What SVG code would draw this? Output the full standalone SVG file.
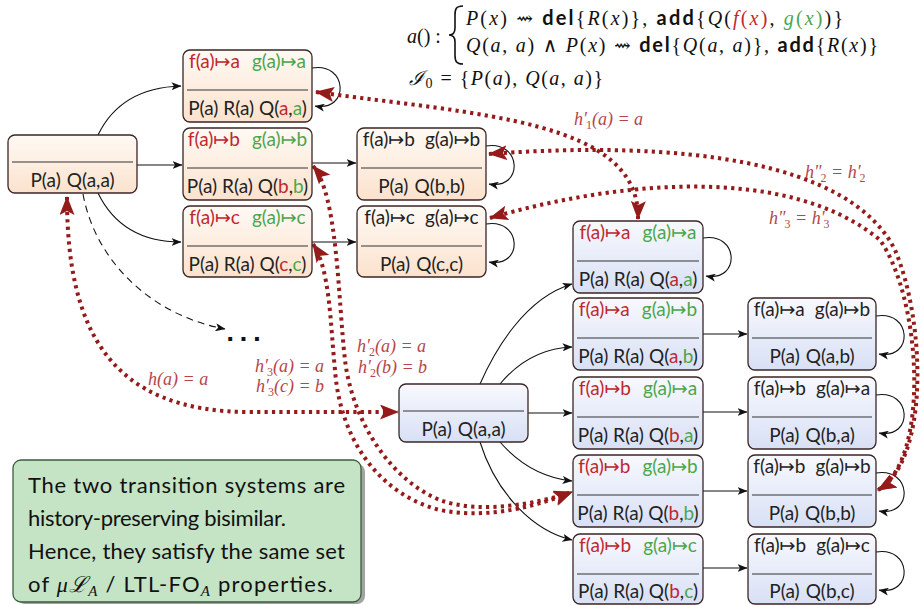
<svg xmlns="http://www.w3.org/2000/svg" width="924" height="605" viewBox="0 0 924 605">
<defs>
  <linearGradient id="gO" x1="0" y1="0" x2="0" y2="1">
    <stop offset="0" stop-color="#fffaf5"/>
    <stop offset="1" stop-color="#fbe2cd"/>
  </linearGradient>
  <linearGradient id="gB" x1="0" y1="0" x2="0" y2="1">
    <stop offset="0" stop-color="#f8f9fe"/>
    <stop offset="1" stop-color="#d8e0f5"/>
  </linearGradient>
  <marker id="ah" viewBox="0 0 10 8" refX="9.5" refY="4" markerWidth="10" markerHeight="8" markerUnits="userSpaceOnUse" orient="auto">
    <path d="M0,0 L10,4 L0,8 L2.5,4 z" fill="#111"/>
  </marker>
  <marker id="rh" viewBox="0 0 19 15" refX="18" refY="7.5" markerWidth="19" markerHeight="15" markerUnits="userSpaceOnUse" orient="auto-start-reverse">
    <path d="M0,0 L19,7.5 L0,15 L4,7.5 z" fill="#951b1b"/>
  </marker>
  <style>
    .nt{fill:url(#gO);stroke:#3b2525;stroke-width:1.3}
    .nb{fill:url(#gB);stroke:#3b2525;stroke-width:1.3}
    .dv{stroke:#333;stroke-width:1.2}
    .nl{font-family:Lato,"DejaVu Sans",sans-serif;font-size:19px;fill:#222;text-anchor:middle}
    .r{fill:#c0272d}
    .g{fill:#4ca64c}
    .e{fill:none;stroke:#111;stroke-width:1.1;marker-end:url(#ah)}
    .dash{stroke-dasharray:7 5}
    .d{fill:none;stroke:#951b1b;stroke-width:4;stroke-dasharray:3.2 4.2;marker-start:url(#rh);marker-end:url(#rh)}
    .lbl{font-family:"Liberation Serif","DejaVu Serif",serif;font-style:italic;font-size:18px;fill:#b5454b}
    .sm{font-size:12px;font-style:normal}
    .math{font-family:"Liberation Serif","DejaVu Serif",serif;font-size:20px;fill:#111}
    .i{font-style:italic}
    .kw{font-family:Lato,"DejaVu Sans",sans-serif;font-weight:bold}
    .note{font-family:Lato,"DejaVu Sans",sans-serif;font-size:22px;fill:#111}
    .ms{font-family:"Liberation Serif","DejaVu Serif",serif;font-style:italic}
  </style>
</defs>

<!-- action specification and initial instance -->
<g id="spec">
  <text class="math" x="407" y="43"><tspan class="i">a</tspan>() :</text>
  <path d="M463,6 C456,6 455,9 455,15 L455,28 C455,33 453,35 449,35 C453,35 455,37 455,42 L455,55 C455,61 456,64 463,64" fill="none" stroke="#111" stroke-width="1.6"/>
  <text class="math" x="466" y="25" textLength="377" lengthAdjust="spacing"><tspan class="i">P</tspan>(<tspan class="i">x</tspan>) ⇝ <tspan class="kw">del</tspan>{<tspan class="i">R</tspan>(<tspan class="i">x</tspan>)}, <tspan class="kw">add</tspan>{<tspan class="i">Q</tspan>(<tspan class="r"><tspan class="i">f</tspan>(<tspan class="i">x</tspan>)</tspan>, <tspan class="g"><tspan class="i">g</tspan>(<tspan class="i">x</tspan>)</tspan>)}</text>
  <text class="math" x="466" y="52" textLength="412" lengthAdjust="spacing"><tspan class="i">Q</tspan>(<tspan class="i">a</tspan>, <tspan class="i">a</tspan>) ∧ <tspan class="i">P</tspan>(<tspan class="i">x</tspan>) ⇝ <tspan class="kw">del</tspan>{<tspan class="i">Q</tspan>(<tspan class="i">a</tspan>, <tspan class="i">a</tspan>)}, <tspan class="kw">add</tspan>{<tspan class="i">R</tspan>(<tspan class="i">x</tspan>)}</text>
  <text class="math" x="409" y="85" textLength="194" lengthAdjust="spacing"><tspan class="i">ℐ</tspan><tspan font-size="14" dy="3">0</tspan><tspan dy="-3"> = {</tspan><tspan class="i">P</tspan>(<tspan class="i">a</tspan>), <tspan class="i">Q</tspan>(<tspan class="i">a</tspan>, <tspan class="i">a</tspan>)}</text>
</g>

<!-- connectors -->
<g id="edges">
  <path class="e" d="M98,135 C115,100 145,87 181,86"/>
  <path class="e" d="M137,165 L182,165"/>
  <path class="e" d="M98,193 C115,228 145,242 181,242"/>
  <path class="e dash" d="M83,194 C95,260 150,315 225,329"/>
  <path class="e" d="M312,163 L356,163"/>
  <path class="e" d="M312,242 L356,242"/>
  <path class="e" d="M312,68 C348,62 350,112 315,106"/>
  <path class="e" d="M486,146 C522,140 524,190 489,184"/>
  <path class="e" d="M486,224 C522,218 524,268 489,262"/>

  <path class="e" d="M480,384 C495,350 525,298 572,284"/>
  <path class="e" d="M500,384 C520,360 545,348 572,347"/>
  <path class="e" d="M528,413 L572,413"/>
  <path class="e" d="M500,442 C520,465 545,478 572,481"/>
  <path class="e" d="M480,442 C495,490 530,530 572,540"/>
  <path class="e" d="M703,334 L747,334"/>
  <path class="e" d="M703,412 L747,412"/>
  <path class="e" d="M703,491 L747,491"/>
  <path class="e" d="M703,568 L747,568"/>
  <path class="e" d="M703,238 C739,232 741,282 706,276"/>
  <path class="e" d="M876,316 C912,310 914,360 879,354"/>
  <path class="e" d="M876,395 C912,389 914,439 879,433"/>
  <path class="e" d="M876,473 C912,467 914,517 879,511"/>
  <path class="e" d="M876,552 C912,546 914,596 879,590"/>

  <!-- bisimulation links -->
  <path class="d" d="M67,197 C67,330 110,412 250,412 L398,412"/>
  <path class="d" d="M316,92 C480,115 640,120 638,219"/>
  <path class="d" d="M489,154 C680,140 850,160 895,250 C925,320 930,460 878,490"/>
  <path class="d" d="M490,218 C620,180 790,165 880,240 C922,300 930,460 878,490"/>
  <path class="d" d="M313,166 C338,195 338,300 345,360 C352,420 390,480 440,500 C480,515 540,503 572,492"/>
  <path class="d" d="M313,244 C330,270 330,320 335,370 C340,440 380,495 440,510 C490,520 540,505 572,492"/>
</g>

<g id="labels">
  <text class="lbl" x="574" y="125">h′<tspan class="sm" dx="-1" dy="4">1</tspan><tspan dy="-4">(a) = a</tspan></text>
  <text class="lbl" x="805" y="178">h″<tspan class="sm" dx="-1" dy="4">2</tspan><tspan dy="-4"> = h′</tspan><tspan class="sm" dx="-1" dy="4">2</tspan></text>
  <text class="lbl" x="769" y="224">h″<tspan class="sm" dx="-1" dy="4">3</tspan><tspan dy="-4"> = h′</tspan><tspan class="sm" dx="-1" dy="4">3</tspan></text>
  <text class="lbl" x="148" y="385">h(a) = a</text>
  <text class="lbl" x="255" y="372">h′<tspan class="sm" dx="-1" dy="4">3</tspan><tspan dy="-4">(a) = a</tspan></text>
  <text class="lbl" x="256" y="392">h′<tspan class="sm" dx="-1" dy="4">3</tspan><tspan dy="-4">(c) = b</tspan></text>
  <text class="lbl" x="357" y="352">h′<tspan class="sm" dx="-1" dy="4">2</tspan><tspan dy="-4">(a) = a</tspan></text>
  <text class="lbl" x="358" y="373">h′<tspan class="sm" dx="-1" dy="4">2</tspan><tspan dy="-4">(b) = b</tspan></text>
  <text x="226" y="341" font-family="DejaVu Sans,sans-serif" font-weight="bold" font-size="22" letter-spacing="5" fill="#111">...</text>
</g>

<!-- first transition system -->
<g id="s1-root">
  <rect class="nt" x="8" y="135" width="129" height="58" rx="7"/>
  <line class="dv" x1="12" y1="162" x2="133" y2="162"/>
  <text class="nl" x="72.5" y="187">P(a)<tspan dx="6">Q(a,a)</tspan></text>
</g>
<g id="s1-aa">
  <rect class="nt" x="183" y="50" width="129" height="72" rx="7"/>
  <line class="dv" x1="187" y1="90" x2="308" y2="90"/>
  <text class="nl" x="247.5" y="68"><tspan class="r">f(a)↦a</tspan><tspan class="g" dx="12">g(a)↦a</tspan></text>
  <text class="nl" x="247.5" y="115">P(a) R(a) Q(<tspan class="r">a</tspan>,<tspan class="g">a</tspan>)</text>
</g>
<g id="s1-bb">
  <rect class="nt" x="183" y="128" width="129" height="72" rx="7"/>
  <line class="dv" x1="187" y1="168" x2="308" y2="168"/>
  <text class="nl" x="247.5" y="146"><tspan class="r">f(a)↦b</tspan><tspan class="g" dx="12">g(a)↦b</tspan></text>
  <text class="nl" x="247.5" y="193">P(a) R(a) Q(<tspan class="r">b</tspan>,<tspan class="g">b</tspan>)</text>
</g>
<g id="s1-cc">
  <rect class="nt" x="183" y="206" width="129" height="71" rx="7"/>
  <line class="dv" x1="187" y1="246" x2="308" y2="246"/>
  <text class="nl" x="247.5" y="224"><tspan class="r">f(a)↦c</tspan><tspan class="g" dx="12">g(a)↦c</tspan></text>
  <text class="nl" x="247.5" y="271">P(a) R(a) Q(<tspan class="r">c</tspan>,<tspan class="g">c</tspan>)</text>
</g>
<g id="s1-bb2">
  <rect class="nt" x="357" y="128" width="129" height="72" rx="7"/>
  <line class="dv" x1="361" y1="168" x2="482" y2="168"/>
  <text class="nl" x="421.5" y="146">f(a)↦b<tspan dx="10">g(a)↦b</tspan></text>
  <text class="nl" x="421.5" y="193">P(a)<tspan dx="6">Q(b,b)</tspan></text>
</g>
<g id="s1-cc2">
  <rect class="nt" x="357" y="206" width="129" height="71" rx="7"/>
  <line class="dv" x1="361" y1="246" x2="482" y2="246"/>
  <text class="nl" x="421.5" y="224">f(a)↦c<tspan dx="10">g(a)↦c</tspan></text>
  <text class="nl" x="421.5" y="271">P(a)<tspan dx="6">Q(c,c)</tspan></text>
</g>

<!-- second transition system -->
<g id="s2-root">
  <rect class="nb" x="399" y="384" width="129" height="58" rx="7"/>
  <line class="dv" x1="403" y1="411" x2="524" y2="411"/>
  <text class="nl" x="463.5" y="436">P(a)<tspan dx="6">Q(a,a)</tspan></text>
</g>
<g id="s2-aa">
  <rect class="nb" x="573" y="221" width="130" height="72" rx="7"/>
  <line class="dv" x1="577" y1="261" x2="699" y2="261"/>
  <text class="nl" x="638" y="239"><tspan class="r">f(a)↦a</tspan><tspan class="g" dx="12">g(a)↦a</tspan></text>
  <text class="nl" x="638" y="286">P(a) R(a) Q(<tspan class="r">a</tspan>,<tspan class="g">a</tspan>)</text>
</g>
<g id="s2-ab">
  <rect class="nb" x="573" y="298" width="130" height="72" rx="7"/>
  <line class="dv" x1="577" y1="338" x2="699" y2="338"/>
  <text class="nl" x="638" y="316"><tspan class="r">f(a)↦a</tspan><tspan class="g" dx="12">g(a)↦b</tspan></text>
  <text class="nl" x="638" y="363">P(a) R(a) Q(<tspan class="r">a</tspan>,<tspan class="g">b</tspan>)</text>
</g>
<g id="s2-ba">
  <rect class="nb" x="573" y="377" width="130" height="72" rx="7"/>
  <line class="dv" x1="577" y1="417" x2="699" y2="417"/>
  <text class="nl" x="638" y="395"><tspan class="r">f(a)↦b</tspan><tspan class="g" dx="12">g(a)↦a</tspan></text>
  <text class="nl" x="638" y="442">P(a) R(a) Q(<tspan class="r">b</tspan>,<tspan class="g">a</tspan>)</text>
</g>
<g id="s2-bb">
  <rect class="nb" x="573" y="455" width="130" height="72" rx="7"/>
  <line class="dv" x1="577" y1="495" x2="699" y2="495"/>
  <text class="nl" x="638" y="473"><tspan class="r">f(a)↦b</tspan><tspan class="g" dx="12">g(a)↦b</tspan></text>
  <text class="nl" x="638" y="520">P(a) R(a) Q(<tspan class="r">b</tspan>,<tspan class="g">b</tspan>)</text>
</g>
<g id="s2-bc">
  <rect class="nb" x="573" y="534" width="130" height="70" rx="7"/>
  <line class="dv" x1="577" y1="574" x2="699" y2="574"/>
  <text class="nl" x="638" y="552"><tspan class="r">f(a)↦b</tspan><tspan class="g" dx="12">g(a)↦c</tspan></text>
  <text class="nl" x="638" y="598">P(a) R(a) Q(<tspan class="r">b</tspan>,<tspan class="g">c</tspan>)</text>
</g>
<g id="s2-ab2">
  <rect class="nb" x="748" y="298" width="128" height="72" rx="7"/>
  <line class="dv" x1="752" y1="338" x2="872" y2="338"/>
  <text class="nl" x="812" y="316">f(a)↦a<tspan dx="10">g(a)↦b</tspan></text>
  <text class="nl" x="812" y="363">P(a)<tspan dx="6">Q(a,b)</tspan></text>
</g>
<g id="s2-ba2">
  <rect class="nb" x="748" y="377" width="128" height="72" rx="7"/>
  <line class="dv" x1="752" y1="417" x2="872" y2="417"/>
  <text class="nl" x="812" y="395">f(a)↦b<tspan dx="10">g(a)↦a</tspan></text>
  <text class="nl" x="812" y="442">P(a)<tspan dx="6">Q(b,a)</tspan></text>
</g>
<g id="s2-bb2">
  <rect class="nb" x="748" y="455" width="128" height="72" rx="7"/>
  <line class="dv" x1="752" y1="495" x2="872" y2="495"/>
  <text class="nl" x="812" y="473">f(a)↦b<tspan dx="10">g(a)↦b</tspan></text>
  <text class="nl" x="812" y="520">P(a)<tspan dx="6">Q(b,b)</tspan></text>
</g>
<g id="s2-bc2">
  <rect class="nb" x="748" y="534" width="128" height="70" rx="7"/>
  <line class="dv" x1="752" y1="574" x2="872" y2="574"/>
  <text class="nl" x="812" y="552">f(a)↦b<tspan dx="10">g(a)↦c</tspan></text>
  <text class="nl" x="812" y="598">P(a)<tspan dx="6">Q(b,c)</tspan></text>
</g>

<!-- remark box -->
<g id="note">
  <rect x="17" y="464" width="348" height="140" rx="8" fill="#a3a3a3"/>
  <rect x="13" y="460" width="348" height="142" rx="8" fill="#c5e3c5" stroke="#3d5c3d" stroke-width="1.3"/>
  <text class="note" x="28" y="493" textLength="317" lengthAdjust="spacing">The two transition systems are</text>
  <text class="note" x="28" y="526" textLength="258" lengthAdjust="spacing">history-preserving bisimilar.</text>
  <text class="note" x="28" y="559" textLength="317" lengthAdjust="spacing">Hence, they satisfy the same set</text>
  <text class="note" x="28" y="592" textLength="305" lengthAdjust="spacing">of <tspan class="ms">μℒ</tspan><tspan class="ms" font-size="15" dy="4">A</tspan><tspan dy="-4"> / LTL-FO</tspan><tspan class="ms" font-size="15" dy="4">A</tspan><tspan dy="-4"> properties.</tspan></text>
</g>
</svg>
